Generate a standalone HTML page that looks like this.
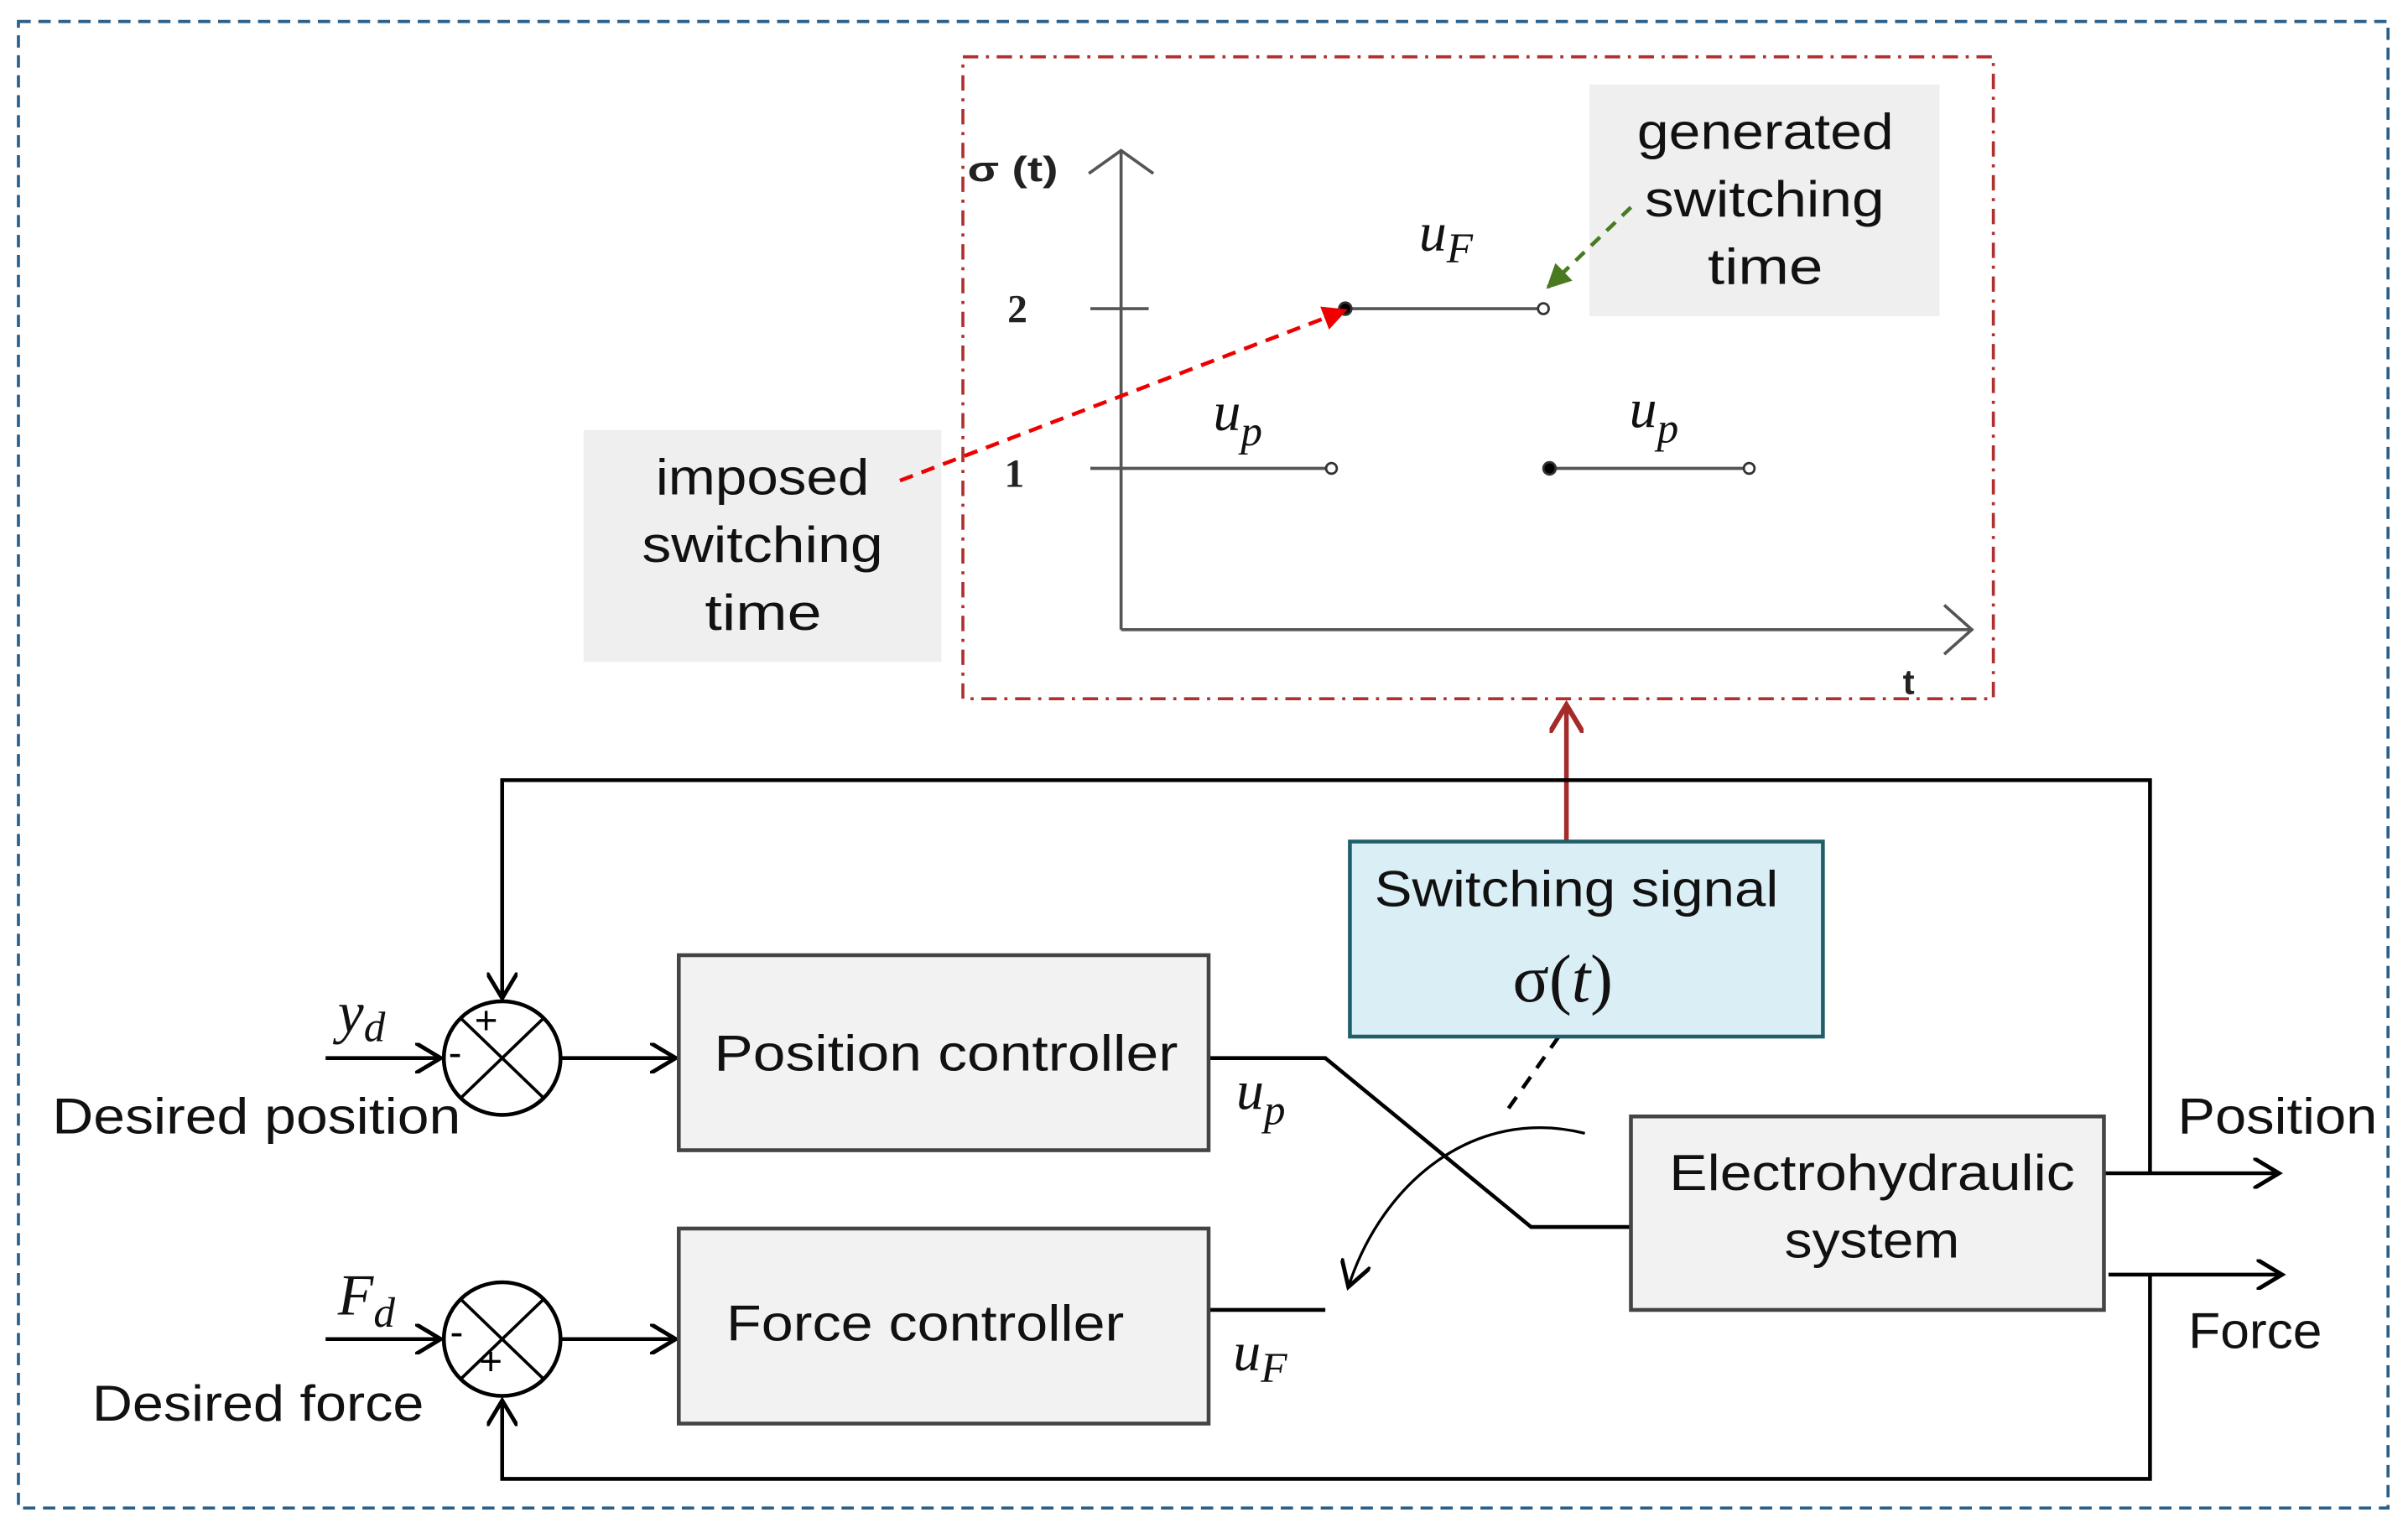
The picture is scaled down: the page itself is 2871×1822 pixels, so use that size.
<!DOCTYPE html>
<html><head><meta charset="utf-8"><style>
html,body{margin:0;padding:0;background:#fff;}
svg{display:block}
.t{font-family:"Liberation Sans",sans-serif;font-size:33px;fill:#111;}
.m{font-family:"Liberation Serif",serif;font-style:italic;fill:#111;}
</style></head><body>
<svg width="2871" height="1822" viewBox="0 0 1568 995" preserveAspectRatio="none" xmlns="http://www.w3.org/2000/svg">
<defs>
<marker id="ch" markerWidth="20" markerHeight="20" refX="10" refY="6" orient="auto" markerUnits="userSpaceOnUse" viewBox="0 0 12 12">
<path d="M0,0 L10,6 L0,12" fill="none" stroke="#000" stroke-width="1.6"/></marker>
<marker id="chr" markerWidth="22" markerHeight="22" refX="10" refY="6" orient="auto" markerUnits="userSpaceOnUse" viewBox="0 0 12 12">
<path d="M0,0 L10,6 L0,12" fill="none" stroke="#a52a2a" stroke-width="1.8"/></marker>
<marker id="tr" markerWidth="16" markerHeight="16" refX="9" refY="5" orient="auto" markerUnits="userSpaceOnUse" viewBox="0 0 10 10">
<path d="M0,0 L10,5 L0,10 Z" fill="#e00"/></marker>
<marker id="tg" markerWidth="16" markerHeight="16" refX="9" refY="5" orient="auto" markerUnits="userSpaceOnUse" viewBox="0 0 10 10">
<path d="M0,0 L10,5 L0,10 Z" fill="#4a7a20"/></marker>
</defs>
<rect x="12" y="14" width="1543" height="968" fill="none" stroke="#2a5f8a" stroke-width="2" stroke-dasharray="8,5"/>
<rect x="627" y="37" width="671" height="418" fill="none" stroke="#b03030" stroke-width="2" stroke-dasharray="10,5,2,5"/>
<rect x="1035" y="55" width="228" height="151" fill="#efefef"/>
<rect x="380" y="280" width="233" height="151" fill="#efefef"/>
<g class="t" lengthAdjust="spacingAndGlyphs">
<text x="1066" y="97" textLength="167" lengthAdjust="spacingAndGlyphs">generated</text>
<text x="1071" y="141" textLength="156" lengthAdjust="spacingAndGlyphs">switching</text>
<text x="1112" y="185" textLength="75" lengthAdjust="spacingAndGlyphs">time</text>
<text x="427" y="322" textLength="139" lengthAdjust="spacingAndGlyphs">imposed</text>
<text x="418" y="366" textLength="157" lengthAdjust="spacingAndGlyphs">switching</text>
<text x="459" y="410" textLength="76" lengthAdjust="spacingAndGlyphs">time</text>
</g>
<g stroke="#555" stroke-width="2" fill="none">
<path d="M730,410 V98 M709,113 L730,98 L751,113"/>
<path d="M730,410 H1284 M1266,394 L1284,410 L1266,426"/>
<path d="M710,201 H748"/>
<path d="M710,305 H864"/>
<path d="M876,201 H1002"/>
<path d="M1009,305 H1136"/>
</g>
<g stroke="#333" stroke-width="1.5">
<circle cx="867" cy="305" r="3.5" fill="#fff"/>
<circle cx="1005" cy="201" r="3.5" fill="#fff"/>
<circle cx="1139" cy="305" r="3.5" fill="#fff"/>
<circle cx="876" cy="201" r="4" fill="#000"/>
<circle cx="1009" cy="305" r="4" fill="#000"/>
</g>
<text x="630" y="118" font-family="Liberation Sans,sans-serif" font-weight="bold" font-size="23" fill="#222" textLength="59" lengthAdjust="spacingAndGlyphs">σ (t)</text>
<text x="656" y="210" font-family="Liberation Serif,serif" font-weight="bold" font-size="26" fill="#222">2</text>
<text x="654" y="317" font-family="Liberation Serif,serif" font-weight="bold" font-size="26" fill="#222">1</text>
<text x="1239" y="452" font-family="Liberation Sans,sans-serif" font-weight="bold" font-size="23" fill="#222">t</text>
<text class="m" x="924" y="163" font-size="36">u<tspan font-size="28" dy="8">F</tspan></text>
<text class="m" x="790" y="280" font-size="36">u<tspan font-size="28" dy="10">p</tspan></text>
<text class="m" x="1061" y="278" font-size="36">u<tspan font-size="28" dy="10">p</tspan></text>
<line x1="586" y1="313" x2="876" y2="202" stroke="#e00" stroke-width="2.5" stroke-dasharray="9,6" marker-end="url(#tr)"/>
<line x1="1062" y1="135" x2="1008" y2="187" stroke="#4a7a20" stroke-width="2.5" stroke-dasharray="8,6" marker-end="url(#tg)"/>
<line x1="1020" y1="548" x2="1020" y2="459" stroke="#a52a2a" stroke-width="3" marker-end="url(#chr)"/>
<g stroke="#000" stroke-width="2.5" fill="none">
<path d="M1400,764 V508 H327 V650" marker-end="url(#ch)"/>
<path d="M1400,830 V963 H327 V912" marker-end="url(#ch)"/>
<path d="M212,689 H287" marker-end="url(#ch)"/>
<path d="M212,872 H287" marker-end="url(#ch)"/>
<path d="M365,689 H440" marker-end="url(#ch)"/>
<path d="M365,872 H440" marker-end="url(#ch)"/>
<path d="M787,689 H863 L997,799 H1062"/>
<path d="M787,853 H863"/>
<path d="M1370,764 H1484" marker-end="url(#ch)"/>
<path d="M1373,830 H1486" marker-end="url(#ch)"/>
</g>
<path d="M1032,738 C960,720 900,770 878,838" stroke="#000" stroke-width="1.8" fill="none" marker-end="url(#ch)"/>
<line x1="1015" y1="675" x2="980" y2="725" stroke="#000" stroke-width="2.5" stroke-dasharray="9,7"/>
<g stroke="#000" stroke-width="2.5" fill="#fff">
<ellipse cx="327" cy="689" rx="38" ry="37"/>
<ellipse cx="327" cy="872" rx="38" ry="37"/>
</g>
<g stroke="#000" stroke-width="2">
<path d="M300,663 L354,715 M354,663 L300,715"/>
<path d="M300,846 L354,898 M354,846 L300,898"/>
</g>
<g font-family="Liberation Sans,sans-serif" font-size="26" fill="#000">
<text x="309" y="673">+</text><text x="292" y="694">-</text>
<text x="293" y="876">-</text><text x="312" y="895">+</text>
</g>
<rect x="442" y="622" width="345" height="127" fill="#f2f2f2" stroke="#444" stroke-width="2.5"/>
<rect x="442" y="800" width="345" height="127" fill="#f2f2f2" stroke="#444" stroke-width="2.5"/>
<rect x="1062" y="727" width="308" height="126" fill="#f2f2f2" stroke="#444" stroke-width="2.5"/>
<rect x="879" y="548" width="308" height="127" fill="#daeef5" stroke="#1f5f6b" stroke-width="2.5"/>
<g class="t">
<text x="465" y="697" textLength="302" lengthAdjust="spacingAndGlyphs">Position controller</text>
<text x="473" y="873" textLength="259" lengthAdjust="spacingAndGlyphs">Force controller</text>
<text x="1087" y="775" textLength="264" lengthAdjust="spacingAndGlyphs">Electrohydraulic</text>
<text x="1162" y="819" textLength="114" lengthAdjust="spacingAndGlyphs">system</text>
<text x="895" y="590" textLength="263" lengthAdjust="spacingAndGlyphs">Switching signal</text>
<text x="34" y="738" textLength="266" lengthAdjust="spacingAndGlyphs">Desired position</text>
<text x="60" y="925" textLength="216" lengthAdjust="spacingAndGlyphs">Desired force</text>
<text x="1418" y="738" textLength="130" lengthAdjust="spacingAndGlyphs">Position</text>
<text x="1425" y="878" textLength="87" lengthAdjust="spacingAndGlyphs">Force</text>
</g>
<text x="985" y="652" font-family="Liberation Serif,serif" font-size="44" fill="#111">σ(<tspan font-style="italic">t</tspan>)</text>
<text class="m" x="220" y="672" font-size="38">y<tspan font-size="28" dy="6">d</tspan></text>
<text class="m" x="220" y="856" font-size="38">F<tspan font-size="28" dy="8">d</tspan></text>
<text class="m" x="805" y="722" font-size="36">u<tspan font-size="28" dy="10">p</tspan></text>
<text class="m" x="803" y="892" font-size="36">u<tspan font-size="28" dy="8">F</tspan></text>
</svg>
</body></html>
